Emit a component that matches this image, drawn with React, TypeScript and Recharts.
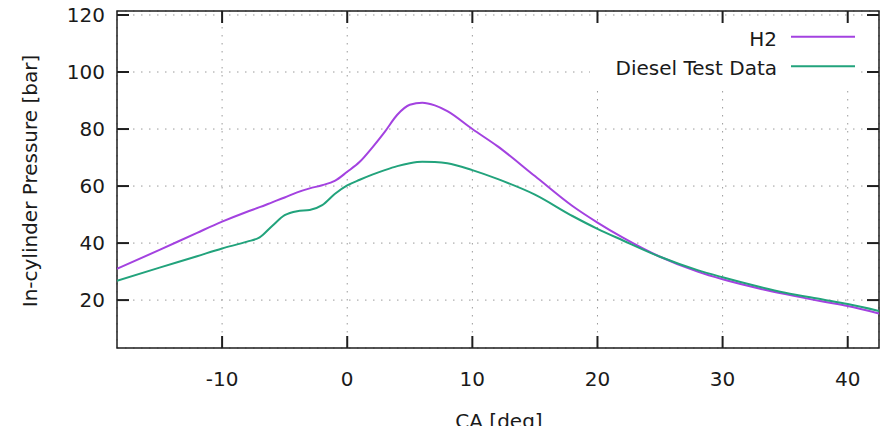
import React from 'react';
import { LineChart, Line, XAxis, YAxis, CartesianGrid, Legend, ReferenceArea, ReferenceLine } from 'recharts';

// crank angle [deg] and in-cylinder pressure [bar] for both runs
const crankAngle = [-18.4, -15, -12, -10, -8, -7, -6, -5, -4, -3, -2, -1, 0, 1, 2, 3, 4, 5, 6, 7, 8, 10, 12, 15, 18, 20, 22, 25, 28, 30, 33, 35, 38, 40, 42.5];
const h2Pressure = [31.0, 37.6, 43.6, 47.5, 51.0, 52.6, 54.3, 56.0, 57.8, 59.2, 60.3, 61.8, 65.0, 68.5, 73.5, 79.0, 85.0, 88.5, 89.2, 88.3, 86.3, 80.0, 74.0, 63.5, 53.0, 47.2, 42.0, 35.2, 30.0, 27.3, 24.0, 22.1, 19.5, 17.9, 15.3];
const dieselPressure = [26.8, 31.4, 35.4, 38.1, 40.5, 42.0, 46.0, 49.8, 51.2, 51.6, 53.3, 57.2, 60.2, 62.2, 64.0, 65.6, 67.0, 68.0, 68.5, 68.4, 68.0, 65.6, 62.5, 57.0, 49.5, 45.0, 41.0, 35.2, 30.5, 28.0, 24.6, 22.6, 20.2, 18.6, 16.2];

const seriesNames = ['H2', 'Diesel Test Data'];
const xTicks = [-10, 0, 10, 20, 30, 40];
const yTicks = [20, 40, 60, 80, 100, 120];

const X_DOMAIN: [number, number] = [-18.4, 42.5];
const Y_DOMAIN: [number, number] = [3.2, 121.4];

const data = crankAngle.map((ca, i) => ({ ca, h2: h2Pressure[i], diesel: dieselPressure[i] }));

const FONT = '"DejaVu Sans", sans-serif';
const INK = '#1a1a1a';
const FRAME = '#1e1e1e';

// plot box edges in chart pixels
const PLOT_L = 117;
const PLOT_R = 879;
const PLOT_T = 11;
const PLOT_B = 348;
const TICK_PX = 12;

// tick length expressed in axis units, so the marks go through the scales
const tickDx = (TICK_PX * (X_DOMAIN[1] - X_DOMAIN[0])) / (PLOT_R - PLOT_L);
const tickDy = (TICK_PX * (Y_DOMAIN[1] - Y_DOMAIN[0])) / (PLOT_B - PLOT_T);

const BottomTick = (props: any) => (
  <text x={props.payload.coordinate} y={386} textAnchor="middle" fontFamily={FONT} fontSize={20} fill={INK}>
    {props.payload.value}
  </text>
);

const LeftTick = (props: any) => (
  <text x={105} y={props.payload.coordinate + 7.3} textAnchor="end" fontFamily={FONT} fontSize={20} fill={INK}>
    {props.payload.value}
  </text>
);

const KEY_LEFT = 590;
const KEY_TOP = 23;
const KEY_W = 270;

const KeyBox = (props: any) => {
  const items = [...(props.payload || [])].sort(
    (a: any, b: any) => seriesNames.indexOf(a.value) - seriesNames.indexOf(b.value)
  );
  return (
    <svg width={KEY_W} height={62} style={{ display: 'block' }}>
      {items.map((item: any, i: number) => (
        <g key={item.value}>
          <text x={777 - KEY_LEFT} y={45.7 - KEY_TOP + i * 29.5} textAnchor="end" fontFamily={FONT} fontSize={20} fill={INK}>
            {item.value}
          </text>
          <line x1={791 - KEY_LEFT} x2={855 - KEY_LEFT} y1={36.7 - KEY_TOP + i * 29.5} y2={36.7 - KEY_TOP + i * 29.5} stroke={item.color} strokeWidth={2} />
        </g>
      ))}
    </svg>
  );
};

const yLabel = () => (
  <text x={37} y={181} transform="rotate(-90, 37, 181)" textAnchor="middle" fontFamily={FONT} fontSize={20} fill={INK}>
    In-cylinder Pressure [bar]
  </text>
);

const xLabel = () => (
  <text x={499} y={428} textAnchor="middle" fontFamily={FONT} fontSize={20} fill={INK}>
    CA [deg]
  </text>
);

// inward ticks on all four sides of the box
const tickMarks = [
  ...xTicks.map((t) => ({ key: `xb${t}`, seg: [{ x: t, y: Y_DOMAIN[0] }, { x: t, y: Y_DOMAIN[0] + tickDy }] })),
  ...xTicks.map((t) => ({ key: `xt${t}`, seg: [{ x: t, y: Y_DOMAIN[1] }, { x: t, y: Y_DOMAIN[1] - tickDy }] })),
  ...yTicks.map((t) => ({ key: `yl${t}`, seg: [{ x: X_DOMAIN[0], y: t }, { x: X_DOMAIN[0] + tickDx, y: t }] })),
  ...yTicks.map((t) => ({ key: `yr${t}`, seg: [{ x: X_DOMAIN[1], y: t }, { x: X_DOMAIN[1] - tickDx, y: t }] })),
];

export default function App() {
  return (
    <div style={{ position: 'absolute', left: 0, top: 0, background: '#fff' }}>
      <LineChart width={884} height={426} data={data} margin={{ top: PLOT_T, right: 884 - PLOT_R, bottom: 38, left: 0 }}>
        <CartesianGrid stroke="#9a9a9a" strokeDasharray="1.5 6.5" />
        <XAxis
          dataKey="ca"
          type="number"
          domain={X_DOMAIN}
          allowDataOverflow
          ticks={xTicks}
          height={40}
          tick={BottomTick}
          tickLine={false}
          axisLine={false}
          label={xLabel}
        />
        <YAxis
          type="number"
          domain={Y_DOMAIN}
          allowDataOverflow
          ticks={yTicks}
          width={PLOT_L}
          tick={LeftTick}
          tickLine={false}
          axisLine={false}
          label={yLabel}
        />
        <Legend
          content={KeyBox}
          layout="horizontal"
          verticalAlign="middle"
          wrapperStyle={{ left: KEY_LEFT, top: KEY_TOP, width: KEY_W, height: 62, background: '#fff' }}
        />
        <Line type="monotone" dataKey="h2" name={seriesNames[0]} stroke="#a342e0" strokeWidth={2} dot={false} isAnimationActive={false} />
        <Line type="monotone" dataKey="diesel" name={seriesNames[1]} stroke="#22a37c" strokeWidth={2} dot={false} isAnimationActive={false} />
        {tickMarks.map((m) => (
          <ReferenceLine key={m.key} segment={m.seg} stroke={FRAME} strokeWidth={2} ifOverflow="visible" />
        ))}
        <ReferenceArea
          x1={X_DOMAIN[0]}
          x2={X_DOMAIN[1]}
          y1={Y_DOMAIN[0]}
          y2={Y_DOMAIN[1]}
          fill="none"
          stroke={FRAME}
          strokeWidth={1.5}
          ifOverflow="visible"
        />
      </LineChart>
    </div>
  );
}
